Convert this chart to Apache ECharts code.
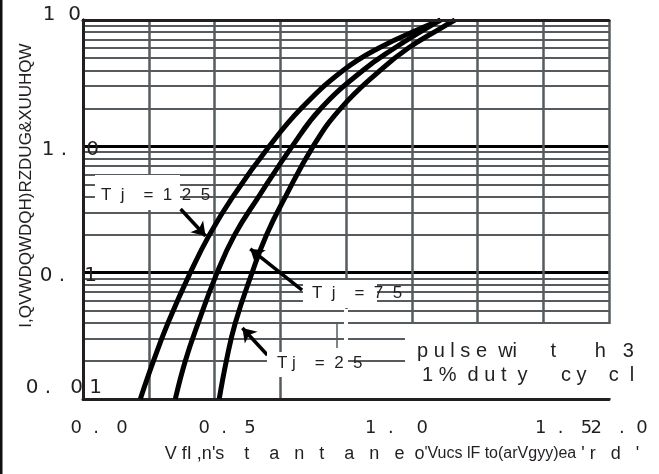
<!DOCTYPE html>
<html>
<head>
<meta charset="utf-8">
<script src="https://cdn.jsdelivr.net/npm/echarts@6/dist/echarts.min.js"></script>
<style>
  html, body { margin: 0; background: #fff; }
  #chart { width: 659px; height: 474px; }
</style>
</head>
<body>
<div id="chart"></div>
<script>
// forward current (A), shared by the three curves
var currentA = [0.01, 0.02, 0.04, 0.1, 0.2, 0.4, 1, 2, 4, 6, 8.6, 10]
// forward voltage (V) per junction temperature
var vfTj125 = [0.218, 0.268, 0.323, 0.408, 0.481, 0.57, 0.708, 0.83, 0.99, 1.125, 1.285, 1.36]
var vfTj75 = [0.351, 0.389, 0.438, 0.51, 0.577, 0.668, 0.795, 0.905, 1.065, 1.185, 1.305, 1.36]
var vfTj25 = [0.518, 0.545, 0.579, 0.643, 0.698, 0.77, 0.875, 0.98, 1.13, 1.237, 1.36, 1.414]

var yTickLabels = ['0 .   0 1', '0 .   1', '1 .   0', '1  0']
var xTickLabels = ['0  .   0', '0  .   5', '1  .    0', '1  .   5', '2   .  0']

// label arrows, [V, A] from text to curve
var arrow125 = [[0.371, 0.319], [0.466, 0.195]]
var arrow75 = [[0.833, 0.0729], [0.636, 0.154]]
var arrow25 = [[0.701, 0.0223], [0.606, 0.0365]]

var ink = '#231f20'
var gridGrey = '#555b5e'
var tickFont = 'DejaVu Sans'
var textFont = 'Liberation Sans'

function pairs(xs, ys) {
  var out = []
  for (var i = 0; i < xs.length; i++) {
    out.push([xs[i], ys[i]])
  }
  return out
}

var chart = echarts.init(document.getElementById('chart'))

var yRich = {}
var yPads = [[0, 0, 23, 0], [6, 5, 0, 0], [6, 3, 0, 0], [0, 21, 10, 0]]
for (var i = 0; i < yTickLabels.length; i++) {
  yRich['y' + i] = { fontFamily: tickFont, fontSize: 20, color: ink, padding: yPads[i] }
}
var xRich = {}
var xPads = [32, 25, 101, 172, 20]
for (var j = 0; j < xTickLabels.length; j++) {
  xRich['x' + j] = { fontFamily: tickFont, fontSize: 18, color: ink, padding: [0, 0, 0, xPads[j]] }
}

var curveLine = { color: '#000', width: 5 }

var option = {
  animation: false,
  grid: { left: 83, right: 50, top: 20, bottom: 75, containLabel: false, outerBoundsMode: 'none' },
  xAxis: [
    {
      type: 'value',
      min: 0,
      max: 2,
      interval: 0.25,
      axisLine: { show: true, lineStyle: { color: ink, width: 3 } },
      axisTick: { show: false },
      splitLine: { show: true, lineStyle: { color: gridGrey, width: 2.5 } },
      axisLabel: {
        margin: 20,
        showMinLabel: true,
        showMaxLabel: true,
        formatter: function (v) {
          var k = Math.round(v / 0.5)
          if (Math.abs(v - k * 0.5) > 1e-6) return ''
          return '{x' + k + '|' + xTickLabels[k] + '}'
        },
        rich: xRich
      },
      name: '{a|V fI ,n\'s    t    a   n   t    a   n   e  o}{b|\'Vucs lF to(arVgyy)ea}{c| \' r   d   \'}',
      nameLocation: 'middle',
      nameGap: 46,
      nameMoveOverlap: false,
      nameTextStyle: {
        padding: [0, 0, 0, 112],
        rich: {
          a: { fontFamily: textFont, fontSize: 18, color: ink },
          b: { fontFamily: textFont, fontSize: 16, color: ink },
          c: { fontFamily: textFont, fontSize: 18, color: ink }
        }
      }
    },
    {
      // top border
      type: 'value',
      position: 'top',
      min: 0,
      max: 1,
      z: 20,
      axisLine: { show: true, lineStyle: { color: ink, width: 3 } },
      axisTick: { show: false },
      axisLabel: { show: false },
      splitLine: { show: false }
    }
  ],
  yAxis: [
    {
      type: 'log',
      logBase: 10,
      min: 0.01,
      max: 10,
      axisLine: { show: true, lineStyle: { color: ink, width: 3 } },
      axisTick: { show: false },
      splitLine: { show: true, lineStyle: { color: '#000', width: 3 } },
      minorTick: { show: false, splitNumber: 9 },
      minorSplitLine: { show: true, lineStyle: { color: gridGrey, width: 1.8 } },
      axisLabel: {
        margin: -19,
        align: 'right',
        showMinLabel: true,
        showMaxLabel: true,
        formatter: function (v) {
          var k = Math.round(Math.log10(v)) + 2
          return '{y' + k + '|' + yTickLabels[k] + '}'
        },
        rich: yRich
      },
      name: 'I,QVWDQWDQH)RZDUG&XUUHQW',
      nameLocation: 'middle',
      nameRotate: 90,
      nameGap: 48,
      nameMoveOverlap: false,
      nameTextStyle: {
        fontFamily: textFont,
        fontSize: 17,
        color: ink,
        padding: [0, 0, 0, 48]
      }
    },
    {
      // right border
      type: 'value',
      position: 'right',
      min: 0,
      max: 1,
      z: 20,
      axisLine: { show: true, lineStyle: { color: ink, width: 3 } },
      axisTick: { show: false },
      axisLabel: { show: false },
      splitLine: { show: false }
    }
  ],
  series: [
    {
      name: 'Tj=125',
      type: 'line',
      data: pairs(vfTj125, currentA),
      showSymbol: false,
      smooth: 0.45,
      lineStyle: curveLine,
      z: 3,
      markLine: {
        silent: true,
        symbol: ['none', 'arrow'],
        symbolSize: 13,
        label: { show: false },
        lineStyle: { color: '#000', width: 3.5, type: 'solid' },
        data: [
          [{ coord: arrow125[0] }, { coord: arrow125[1] }],
          [{ coord: arrow75[0] }, { coord: arrow75[1] }],
          [{ coord: arrow25[0] }, { coord: arrow25[1] }]
        ]
      }
    },
    {
      name: 'Tj=75',
      type: 'line',
      data: pairs(vfTj75, currentA),
      showSymbol: false,
      smooth: 0.45,
      lineStyle: curveLine,
      z: 3
    },
    {
      name: 'Tj=25',
      type: 'line',
      data: pairs(vfTj25, currentA),
      showSymbol: false,
      smooth: 0.45,
      lineStyle: curveLine,
      z: 3
    }
  ],
  graphic: {
    elements: [
      // page frame edge
      { type: 'rect', shape: { x: 0, y: 0, width: 2.5, height: 474 }, style: { fill: '#111' }, z: 10 },
      // white label boxes over the grid
      { type: 'rect', shape: { x: 95, y: 175, width: 85, height: 35 }, style: { fill: '#fff' }, z: 10 },
      { type: 'rect', shape: { x: 303, y: 280, width: 74, height: 28 }, style: { fill: '#fff' }, z: 10 },
      { type: 'rect', shape: { x: 267, y: 352, width: 80, height: 25 }, style: { fill: '#fff' }, z: 10 },
      { type: 'rect', shape: { x: 405, y: 324, width: 254, height: 74 }, style: { fill: '#fff' }, z: 10 },
      { type: 'rect', shape: { x: 344, y: 309, width: 4, height: 89 }, style: { fill: '#fff' }, z: 10 },
      { type: 'line', shape: { x1: 337, y1: 322, x2: 337, y2: 348 }, style: { stroke: gridGrey, lineWidth: 1.5 }, z: 11 },
      { type: 'text', x: 101, y: 195, z: 11, style: { text: 'T  j    =  1  2  5', fontFamily: textFont, fontSize: 17, fill: ink, verticalAlign: 'middle' } },
      { type: 'text', x: 312, y: 293, z: 11, style: { text: 'T  j    =  7  5', fontFamily: textFont, fontSize: 17, fill: ink, verticalAlign: 'middle' } },
      { type: 'text', x: 277, y: 363, z: 11, style: { text: 'T j    =  2  5', fontFamily: textFont, fontSize: 17, fill: ink, verticalAlign: 'middle' } },
      { type: 'text', x: 417, y: 351, z: 11, style: { text: 'p u l s e  wi      t       h   3', fontFamily: textFont, fontSize: 20, fill: ink, verticalAlign: 'middle' } },
      { type: 'text', x: 422, y: 375, z: 11, style: { text: '1 %  d u t  y      c y    c  l', fontFamily: textFont, fontSize: 20, fill: ink, verticalAlign: 'middle' } }
    ]
  }
}

chart.setOption(option)
</script>
</body>
</html>
